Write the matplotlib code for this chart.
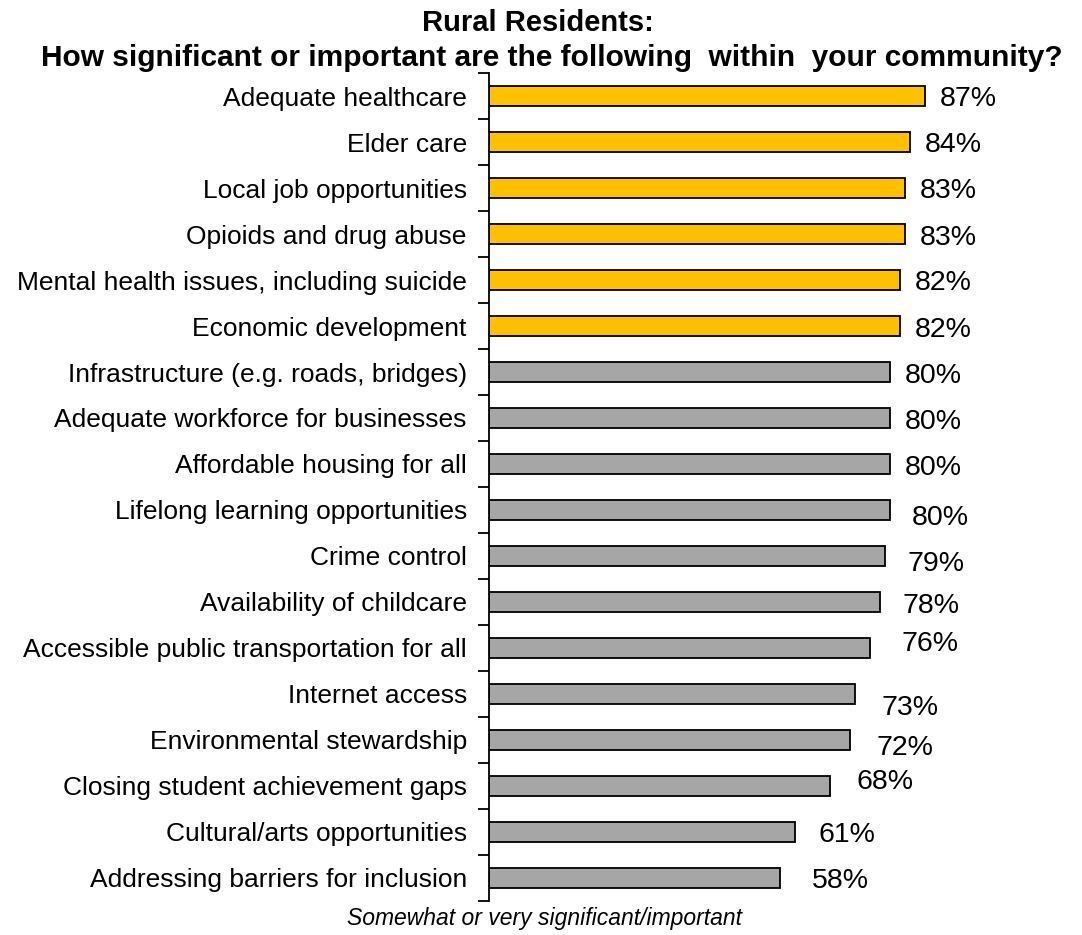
import matplotlib
matplotlib.use('Agg')
import matplotlib.pyplot as plt
import numpy as np

plt.rcParams['font.family'] = ['Liberation Sans', 'DejaVu Sans']

issues = [
    'Adequate healthcare',
    'Elder care',
    'Local job opportunities',
    'Opioids and drug abuse',
    'Mental health issues, including suicide',
    'Economic development',
    'Infrastructure (e.g. roads, bridges)',
    'Adequate workforce for businesses',
    'Affordable housing for all',
    'Lifelong learning opportunities',
    'Crime control',
    'Availability of childcare',
    'Accessible public transportation for all',
    'Internet access',
    'Environmental stewardship',
    'Closing student achievement gaps',
    'Cultural/arts opportunities',
    'Addressing barriers for inclusion',
]
pct = [87, 84, 83, 83, 82, 82, 80, 80, 80, 80, 79, 78, 76, 73, 72, 68, 61, 58]
top_n = 6

# hand-placed label nudges (points): (dx, dy)
label_nudge = [(0, 0), (0, 0), (0, 0), (0, -1), (0, 0), (0, -1),
               (0, -1), (0, -1), (0, -1), (5, -4), (5, -4), (5, -1),
               (12, 5), (8, -8), (8, -4), (8, 5), (6, 0), (12, 0)]

fig = plt.figure(figsize=(10.82, 9.35), dpi=100)
ax = fig.add_axes([0.452, 0.0364, 0.463, 0.8855])

y = np.arange(len(issues))
colors = ['#FFC000' if i < top_n else '#A6A6A6' for i in range(len(issues))]
bars = ax.barh(y, pct, height=0.42, color=colors, edgecolor='black', linewidth=1.3)

for bar, v, (dx, dy) in zip(bars, pct, label_nudge):
    ax.annotate(f'{v}%', xy=(bar.get_width(), bar.get_y() + bar.get_height() / 2),
                xytext=(11 + dx, dy - 2), textcoords='offset points',
                ha='left', va='center', fontsize=20.5)

ax.set_xlim(0, 100)
ax.set_ylim(len(issues) - 0.5, -0.5)
ax.set_yticks(y)
ax.set_yticklabels(issues, fontsize=19)
ax.set_yticks(np.arange(len(issues) + 1) - 0.5, minor=True)
ax.tick_params(axis='y', which='major', length=0, pad=16)
ax.tick_params(axis='y', which='minor', length=8, width=1.3, direction='out')
ax.set_xticks([])
for s in ['top', 'right', 'bottom']:
    ax.spines[s].set_visible(False)
ax.spines['left'].set_linewidth(1.3)

fig.text(0.497, 0.975, 'Rural Residents:', ha='center', va='center',
         fontsize=21, fontweight='bold')
fig.text(0.51, 0.938, 'How significant or important are the following  within  your community?',
         ha='center', va='center', fontsize=21.5, fontweight='bold')
fig.text(0.503, 0.018, 'Somewhat or very significant/important', ha='center', va='center',
         fontsize=16.5, style='italic')

fig.savefig('out.png', dpi=100)
